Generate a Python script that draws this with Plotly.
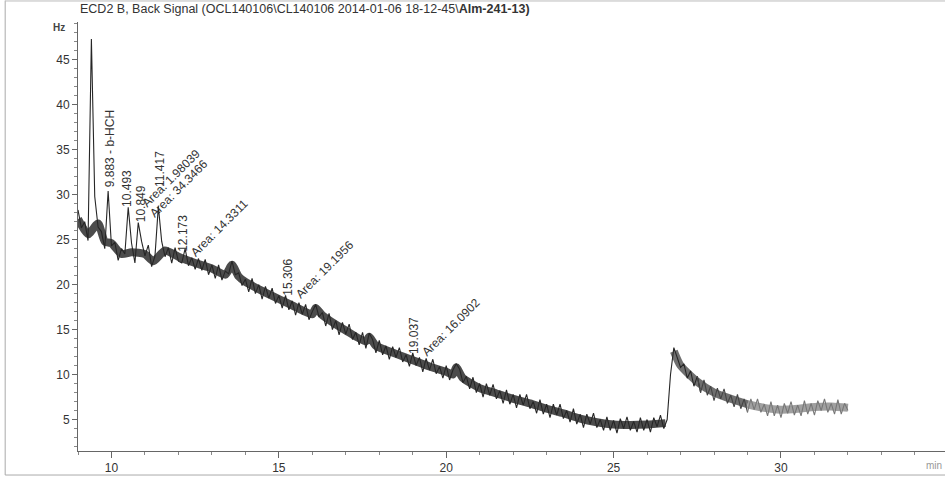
import numpy as np
import plotly.graph_objects as go

# ---- data ----
title_text = "ECD2 B, Back Signal (OCL140106\\CL140106 2014-01-06 18-12-45\\<b>Alm-241-13)</b>"
sample_start = 9.0   # min
sample_step = 0.1    # min
signal_hz = [
    28.3, 26.3, 27.0, 24.9, 47.3, 29.8, 26.4, 25.9, 24.0, 30.4,   # 9.x
    24.3, 24.7, 22.7, 24.0, 23.4, 28.6, 24.6, 22.4, 26.9, 24.8,   # 10.x
    23.2, 24.4, 22.0, 23.2, 28.7, 24.8, 23.1, 24.1, 22.4, 24.1,   # 11.x
    22.6, 22.4, 24.0, 22.1, 23.0, 21.7, 22.9, 21.6, 22.8, 21.1,   # 12.x
    22.2, 20.7, 22.2, 20.5, 21.5, 21.2, 22.6, 21.1, 21.3, 19.9,   # 13.x
    20.6, 19.2, 20.7, 19.0, 20.0, 18.4, 19.8, 18.5, 19.6, 17.9,   # 14.x
    18.8, 17.4, 18.8, 17.2, 18.2, 16.6, 18.0, 16.7, 17.8, 16.1,   # 15.x
    17.0, 17.8, 16.4, 16.9, 15.4, 16.8, 15.0, 16.0, 14.4, 15.8,   # 16.x
    14.5, 15.6, 13.9, 14.7, 13.3, 14.7, 12.9, 14.6, 13.9, 12.4,   # 17.x
    13.8, 12.2, 13.2, 11.7, 13.1, 11.9, 13.0, 11.4, 12.2, 10.9,   # 18.x
    12.4, 11.0, 11.9, 10.3, 11.8, 10.5, 11.7, 10.1, 10.9, 9.6,    # 19.x
    11.0, 9.4, 10.5, 11.2, 10.6, 9.1, 9.8, 8.4, 9.7, 8.0,         # 20.x
    9.0, 7.5, 9.0, 7.7, 8.9, 7.3, 8.2, 6.8, 8.3, 6.7,             # 21.x
    7.8, 6.3, 7.8, 6.6, 7.8, 6.2, 7.0, 5.7, 7.2, 5.6,             # 22.x
    6.7, 5.2, 6.7, 5.5, 6.7, 5.1, 6.0, 4.7, 6.2, 4.5,             # 23.x
    5.6, 4.1, 5.6, 4.5, 5.7, 4.1, 5.0, 3.8, 5.3, 3.8,             # 24.x
    4.9, 3.5, 5.1, 4.0, 5.3, 3.8, 4.8, 3.6, 5.2, 3.8,             # 25.x
    5.0, 3.6, 5.2, 4.2, 5.5, 4.0, 5.0, 10.0, 13.0, 12.0,          # 26.x
    10.8, 11.2, 9.6, 10.4, 8.7, 9.8, 8.0, 9.4, 7.7, 8.7,          # 27.x
    7.1, 8.5, 7.3, 8.4, 6.8, 7.7, 6.4, 7.8, 6.2, 7.3,             # 28.x
    5.8, 7.3, 6.1, 7.3, 5.8, 6.7, 5.4, 7.0, 5.4, 6.6,             # 29.x
    5.2, 6.8, 5.7, 7.0, 5.5, 6.6, 5.4, 7.1, 5.6, 6.8,             # 30.x
    5.5, 7.1, 6.0, 7.3, 5.8, 6.8, 5.6, 7.2, 5.6, 6.8,             # 31.x
    6.0,                                                          # 32.0
]
# centre line of the noisy baseline band (peaks excluded)
band_t = [9.0, 9.3, 9.6, 9.8, 10.0, 10.3, 10.6, 11.0, 11.25, 11.6, 12.0, 12.5, 13.0,
          13.4, 13.6, 13.8, 14.0, 14.5, 15.0, 15.5, 16.0, 16.1, 16.3, 17.0, 17.6, 17.7,
          17.9, 18.5, 19.0, 19.5, 20.0, 20.2, 20.3, 20.5, 21.0, 21.5, 22.0, 22.5, 23.0,
          23.5, 24.0, 24.5, 25.0, 25.5, 26.0, 26.55]
band_v = [27.3, 25.6, 26.8, 24.8, 24.6, 23.4, 23.6, 23.4, 22.6, 23.8, 23.1, 22.4, 21.8,
          21.1, 22.2, 20.9, 20.3, 19.3, 18.4, 17.5, 16.7, 17.4, 16.6, 14.9, 13.7, 14.2,
          13.2, 12.3, 11.6, 10.9, 10.3, 10.0, 10.8, 9.6, 8.5, 7.9, 7.3, 6.8, 6.2,
          5.7, 5.1, 4.7, 4.45, 4.4, 4.45, 4.6]
tail_t = [26.8, 27.0, 27.5, 28.0, 28.5, 29.0, 29.5, 30.0, 30.5, 31.0, 31.5, 32.0]
tail_v = [12.6, 11.0, 9.2, 8.0, 7.3, 6.7, 6.3, 6.1, 6.2, 6.4, 6.45, 6.3]

peak_labels = ["9.883 - b-HCH", "10.493", "10.849", "11.417", "12.173", "15.306", "19.037"]
peak_label_t = [9.94, 10.48, 10.87, 11.43, 12.15, 15.28, 19.04]
peak_label_v = [35.1, 30.7, 29.0, 32.9, 25.7, 20.8, 14.3]
area_labels = ["Area: 1.98039", "Area: 34.3466", "Area: 14.3311", "Area: 19.1956", "Area: 16.0902"]
area_label_t = [11.79, 12.03, 13.22, 16.39, 20.15]
area_label_v = [31.9, 30.7, 26.3, 21.7, 15.3]
x_ticks = [10, 15, 20, 25, 30]
y_ticks = [5, 10, 15, 20, 25, 30, 35, 40, 45]

# ---- figure ----
times = np.round(sample_start + sample_step * np.arange(len(signal_hz)), 2)
vals = np.array(signal_hz)

fig = go.Figure()
# thick band traces (noise thickness)
fig.add_trace(go.Scatter(x=band_t, y=band_v, mode="lines",
                         line=dict(color="rgba(45,45,45,0.85)", width=8, shape="spline", smoothing=0.6),
                         hoverinfo="skip", showlegend=False))
fig.add_trace(go.Scatter(x=tail_t[:6], y=tail_v[:6], mode="lines",
                         line=dict(color="rgba(75,75,75,0.8)", width=8, shape="spline", smoothing=0.6),
                         hoverinfo="skip", showlegend=False))
fig.add_trace(go.Scatter(x=tail_t[5:], y=tail_v[5:], mode="lines",
                         line=dict(color="rgba(120,120,120,0.7)", width=8, shape="spline", smoothing=0.6),
                         hoverinfo="skip", showlegend=False))
segments = [(0, 187, "#262626"), (185, 201, "#444444"), (200, len(vals), "#777777")]
for a, b, col in segments:
    fig.add_trace(go.Scatter(x=times[a:b], y=vals[a:b], mode="lines",
                             line=dict(color=col, width=1.1), hoverinfo="skip",
                             showlegend=False))

font_family = "Liberation Sans, Arial, sans-serif"
ann = []
for txt, t, v in zip(peak_labels, peak_label_t, peak_label_v):
    ann.append(dict(x=t, y=v, xref="x", yref="y", text=txt, showarrow=False,
                    textangle=-90, xanchor="center", yanchor="middle",
                    font=dict(family=font_family, size=12, color="#333333")))
for txt, t, v in zip(area_labels, area_label_t, area_label_v):
    ann.append(dict(x=t, y=v, xref="x", yref="y", text=txt, showarrow=False,
                    textangle=-45, xanchor="center", yanchor="middle",
                    font=dict(family=font_family, size=12, color="#333333")))
# title
ann.append(dict(x=0.0, y=1.030, xref="paper", yref="paper", xanchor="left", yanchor="middle",
                text=title_text, showarrow=False,
                font=dict(family=font_family, size=12.5, color="#333333")))
# unit labels
ann.append(dict(x=-0.013, y=0.988, xref="paper", yref="paper", xanchor="right", yanchor="middle",
                text="<b>Hz</b>", showarrow=False,
                font=dict(family=font_family, size=10, color="#444444")))
ann.append(dict(x=0.999, y=-0.033, xref="paper", yref="paper", xanchor="right", yanchor="middle",
                text="min", showarrow=False,
                font=dict(family=font_family, size=10, color="#999999")))

shapes = [
    dict(type="line", xref="paper", yref="paper", x0=-0.084, x1=-0.084, y0=1.05, y1=-0.056,
         line=dict(color="#aaaaaa", width=1)),
    dict(type="line", xref="paper", yref="paper", x0=-0.084, x1=1.0, y0=-0.056, y1=-0.056,
         line=dict(color="#aaaaaa", width=1)),
    dict(type="line", xref="paper", yref="paper", x0=-0.084, x1=1.0, y0=1.049, y1=1.049,
         line=dict(color="#bbbbbb", width=1)),
]

fig.update_layout(
    width=945, height=479,
    margin=dict(l=78, r=0, t=22, b=28),
    paper_bgcolor="white", plot_bgcolor="white",
    annotations=ann, shapes=shapes,
    hovermode=False,
    xaxis=dict(range=[9.0, 34.9], tickvals=x_ticks, ticks="outside", ticklen=6,
               tickcolor="#666666", showline=True, linecolor="#666666", linewidth=1,
               showgrid=False, zeroline=False,
               minor=dict(dtick=1, ticks="outside", ticklen=3, tickcolor="#888888"),
               tickfont=dict(family=font_family, size=12, color="#333333")),
    yaxis=dict(range=[1.5, 49.2], tickvals=y_ticks, ticks="outside", ticklen=5,
               tickcolor="#666666", showline=True, linecolor="#666666", linewidth=1,
               showgrid=False, zeroline=False,
               minor=dict(dtick=1, ticks="outside", ticklen=3, tickcolor="#888888"),
               tickfont=dict(family=font_family, size=12, color="#333333")),
)

fig.write_html("out.html", config={"displayModeBar": False},
               post_script="document.body.style.margin='0';document.body.style.padding='0';")
